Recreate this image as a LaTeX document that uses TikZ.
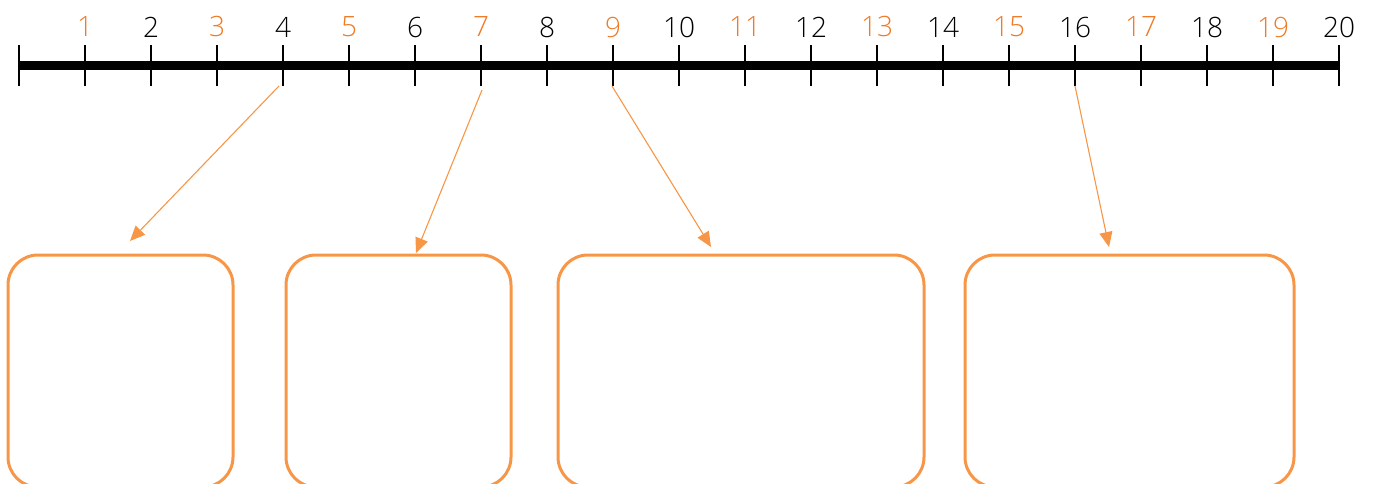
\documentclass[tikz,border=0pt]{standalone}
\usepackage{fontspec}
\setmainfont{Open Sans Light}
\usetikzlibrary{arrows.meta}
\definecolor{figorange}{HTML}{F79646}
\definecolor{figdarkorange}{HTML}{EE7A26}
\definecolor{figblack}{HTML}{000000}
\begin{document}
\begin{tikzpicture}[x=1pt,y=-1pt,
  every node/.style={font=\fontsize{28}{30}\selectfont},
  answerbox/.style={draw=figorange,line width=3pt,rounded corners=30pt,
    anchor=north west,minimum height=232pt,inner sep=0pt,outer sep=0pt},
  pointer/.style={figorange,line width=1.1pt,-{Triangle[length=15pt,width=13pt]}}]
\useasboundingbox (0,0) rectangle (1376,484);
\begin{scope}
\clip (0,0) rectangle (1376,484);
% number line
\draw[figblack,line width=9pt] (19,66) -- (1339,66);
\foreach \i in {0,...,20} {
  \draw[figblack,line width=2pt] (19+66*\i,45) -- (19+66*\i,86);
  \coordinate (tk\i) at (19+66*\i,86);
}
\foreach \i in {1,3,...,19}
  \node[text=figdarkorange] (n\i) at (19+66*\i,27) {\i};
\foreach \i in {2,4,...,20}
  \node[text=figblack] (n\i) at (19+66*\i,27) {\i};
% boxes
\node[answerbox,minimum width=225pt] (box1) at (8,255) {};
\node[answerbox,minimum width=225pt] (box2) at (286,255) {};
\node[answerbox,minimum width=366pt] (box3) at (558,255) {};
\node[answerbox,minimum width=329pt] (box4) at (965,255) {};
% arrow tips
\coordinate (a1) at (130,241);
\coordinate (a2) at (416,253);
\coordinate (a3) at (711,247);
\coordinate (a4) at (1109,247);
\draw[pointer] ([xshift=-4pt]tk4) -- (a1);
\draw[pointer] ([xshift=1pt,yshift=-4pt]tk7) -- (a2);
\draw[pointer] ([xshift=-1pt]tk9) -- (a3);
\draw[pointer] (tk16) -- (a4);
\end{scope}
\end{tikzpicture}
\end{document}
